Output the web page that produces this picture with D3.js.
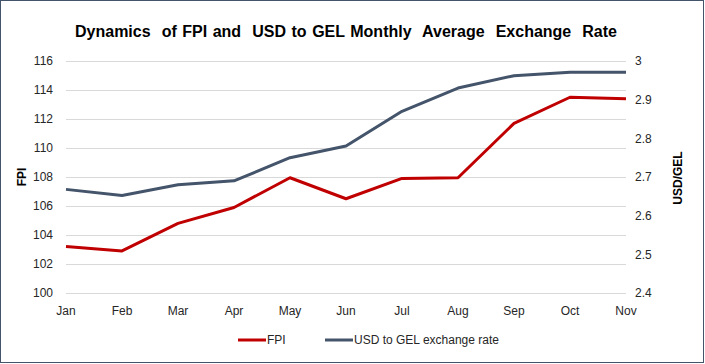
<!DOCTYPE html>
<html>
<head>
<meta charset="utf-8">
<script src="https://cdn.jsdelivr.net/npm/d3@7"></script>
<style>
  body { margin: 0; background: #fff; }
  svg { display: block; font-family: "Liberation Sans", Arial, sans-serif; }
</style>
</head>
<body>
<script>
const months = ["Jan", "Feb", "Mar", "Apr", "May", "Jun", "Jul", "Aug", "Sep", "Oct", "Nov"];
const fpi = [103.2, 102.9, 104.8, 105.9, 107.95, 106.5, 107.9, 107.95, 111.7, 113.5, 113.4];
const usdGel = [2.668, 2.652, 2.68, 2.69, 2.75, 2.78, 2.87, 2.93, 2.962, 2.971, 2.971];
const fpiTicks = [100, 102, 104, 106, 108, 110, 112, 114, 116];
const usdTicks = [2.4, 2.5, 2.6, 2.7, 2.8, 2.9, 3];
const title = "Dynamics  of FPI and  USD to GEL Monthly  Average  Exchange  Rate";

const width = 705, height = 364;
const margin = {top: 61, right: 79, bottom: 71, left: 66};

const svg = d3.select("body").append("svg")
  .attr("width", width)
  .attr("height", height);

// outer frame
svg.append("rect")
  .attr("x", 0.5).attr("y", 0.5)
  .attr("width", width - 2).attr("height", height - 2)
  .attr("fill", "#fff")
  .attr("stroke", "#44546a")
  .attr("stroke-width", 1);

const x = d3.scalePoint()
  .domain(months)
  .range([margin.left, width - margin.right]);

const yL = d3.scaleLinear()
  .domain([100, 116])
  .range([height - margin.bottom, margin.top]);

const yR = d3.scaleLinear()
  .domain([2.4, 3])
  .range([height - margin.bottom, margin.top]);

// gridlines
svg.append("g")
  .selectAll("line")
  .data(fpiTicks)
  .join("line")
  .attr("x1", margin.left)
  .attr("x2", width - margin.right)
  .attr("y1", d => Math.round(yL(d)) + 0.5)
  .attr("y2", d => Math.round(yL(d)) + 0.5)
  .attr("stroke", "#d9d9d9")
  .attr("stroke-width", 1);

// left axis labels
svg.append("g")
  .style("font-size", "12px")
  .attr("fill", "#262626")
  .selectAll("text")
  .data(fpiTicks)
  .join("text")
  .attr("x", 53)
  .attr("y", d => yL(d))
  .attr("dy", "0.35em")
  .attr("text-anchor", "end")
  .text(d => d);

// right axis labels
svg.append("g")
  .style("font-size", "12px")
  .attr("fill", "#262626")
  .selectAll("text")
  .data(usdTicks)
  .join("text")
  .attr("x", 635)
  .attr("y", d => yR(d))
  .attr("dy", "0.35em")
  .attr("text-anchor", "start")
  .text(d => d);

// month labels
svg.append("g")
  .style("font-size", "12px")
  .attr("fill", "#262626")
  .selectAll("text")
  .data(months)
  .join("text")
  .attr("x", d => x(d))
  .attr("y", 311)
  .attr("dy", "0.35em")
  .attr("text-anchor", "middle")
  .text(d => d);

// axis titles
svg.append("text")
  .attr("transform", "translate(26,177) rotate(-90)")
  .attr("text-anchor", "middle")
  .style("font-size", "12px")
  .style("font-weight", "bold")
  .attr("fill", "#000")
  .text("FPI");

svg.append("text")
  .attr("transform", "translate(682,178) rotate(-90)")
  .attr("text-anchor", "middle")
  .style("font-size", "12px")
  .style("font-weight", "bold")
  .attr("fill", "#000")
  .text("USD/GEL");

// title - widen the gaps between words so it spans like the original
const titleText = svg.append("text")
  .attr("x", 75)
  .attr("y", 31)
  .attr("dy", "0.35em")
  .attr("text-anchor", "start")
  .style("font-size", "16px")
  .style("font-weight", "bold")
  .style("white-space", "pre")
  .attr("fill", "#000")
  .text(title);
const natural = titleText.node().getComputedTextLength();
const spaces = title.split(" ").length - 1;
titleText.style("word-spacing", Math.max(0, (542 - natural) / spaces) + "px");

// lines
const lineL = d3.line().x((d, i) => x(months[i])).y(d => yL(d));
const lineR = d3.line().x((d, i) => x(months[i])).y(d => yR(d));

svg.append("path")
  .datum(usdGel)
  .attr("d", lineR)
  .attr("fill", "none")
  .attr("stroke", "#44546a")
  .attr("stroke-width", 3)
  .attr("stroke-linejoin", "round");

svg.append("path")
  .datum(fpi)
  .attr("d", lineL)
  .attr("fill", "none")
  .attr("stroke", "#c00000")
  .attr("stroke-width", 3)
  .attr("stroke-linejoin", "round");

// legend
const legend = [
  {name: "FPI", color: "#c00000", x: 238},
  {name: "USD to GEL exchange rate", color: "#44546a", x: 325}
];
const lg = svg.append("g")
  .selectAll("g")
  .data(legend)
  .join("g")
  .attr("transform", d => `translate(${d.x},340)`);
lg.append("line")
  .attr("x1", 0).attr("x2", 28)
  .attr("stroke", d => d.color)
  .attr("stroke-width", 3);
lg.append("text")
  .attr("x", 29)
  .attr("dy", "0.35em")
  .style("font-size", "12px")
  .attr("fill", "#262626")
  .text(d => d.name);
</script>
</body>
</html>
